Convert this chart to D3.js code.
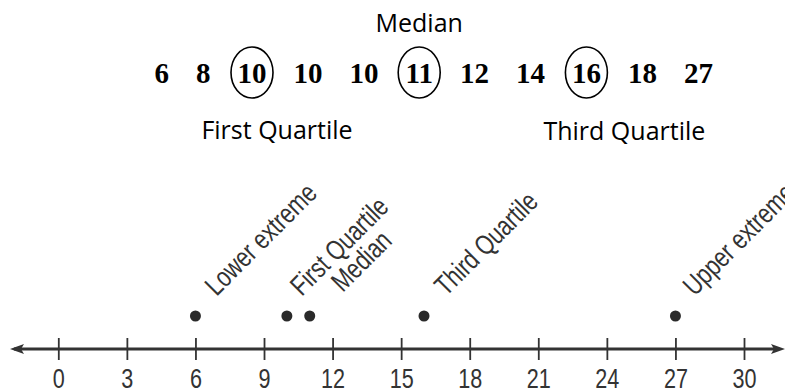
<!DOCTYPE html>
<html><head><meta charset="utf-8">
<script src="https://cdn.jsdelivr.net/npm/d3@7"></script>
<style>
html,body{margin:0;padding:0;background:#fff;}
svg{display:block;}
</style></head>
<body>
<svg id="chart" width="785" height="392"></svg>
<script>
// ---------- data ----------
const dataValues = [6, 8, 10, 10, 10, 11, 12, 14, 16, 18, 27];
const circledIdx = [2, 5, 8];
const topLabels = ["First Quartile", "Median", "Third Quartile"];
const topLabelIdx = [2, 5, 8];
const summaryNames = ["Lower extreme", "First Quartile", "Median", "Third Quartile", "Upper extreme"];
const summaryValues = [6, 10, 11, 16, 27];
const tickValues = [0, 3, 6, 9, 12, 15, 18, 21, 24, 27, 30];
const axisDomain = [0, 30];

// ---------- drawing ----------
const svg = d3.select("#chart");

// Top ordered list of values
const numFont = "'Liberation Serif','Times New Roman',serif";
const numSize = 29, numBaseline = 83, gap = 27, startX = 154.5;
const numG = svg.append("g");
let cursor = startX;
const tokens = dataValues.map((v, i) => {
  const t = numG.append("text")
    .attr("font-family", numFont).attr("font-weight", "bold")
    .attr("font-size", numSize).attr("fill", "#000")
    .attr("y", numBaseline).text(v);
  const w = t.node().getComputedTextLength();
  t.attr("x", cursor);
  const c = cursor + w / 2;
  cursor += w + gap;
  return {v, i, cx: c};
});
numG.selectAll("ellipse").data(circledIdx).join("ellipse")
  .attr("cx", d => tokens[d].cx)
  .attr("cy", 72.5)
  .attr("rx", 21).attr("ry", 25.5)
  .attr("fill", "none").attr("stroke", "#000").attr("stroke-width", 1.6);

const lblFont = "'Open Sans','Noto Sans',sans-serif";
const topPos = [{dx: 25, y: 138.5}, {dx: 0, y: 32}, {dx: 38, y: 140}];
svg.append("g").selectAll("text").data(topLabels).join("text")
  .attr("font-family", lblFont).attr("font-size", 25).attr("fill", "#000")
  .attr("text-anchor", "middle")
  .attr("x", (d, i) => tokens[topLabelIdx[i]].cx + topPos[i].dx)
  .attr("y", (d, i) => topPos[i].y)
  .text(d => d);

// Number line
const x = d3.scaleLinear().domain(axisDomain).range([58.3, 744]);
const axisY = 349;
const axFont = "'Liberation Sans',Arial,sans-serif";
const squeeze = 0.78;
const ink = "#333";

const axisG = svg.append("g").attr("transform", `translate(0,${axisY})`)
  .call(d3.axisBottom(x).tickValues(tickValues).tickSizeOuter(0).tickSizeInner(11).tickFormat(d3.format("d")));
axisG.select(".domain").remove();
axisG.selectAll(".tick line").attr("y1", -11).attr("y2", 11).attr("stroke", ink).attr("stroke-width", 1.8);
axisG.selectAll(".tick text").attr("y", 39).attr("dy", 0)
  .attr("transform", `scale(0.8,1)`)
  .attr("font-family", axFont).attr("font-size", 27).attr("fill", ink);

// main line with arrows
svg.append("line").attr("x1", 14).attr("x2", 778).attr("y1", axisY).attr("y2", axisY)
  .attr("stroke", ink).attr("stroke-width", 2.8);
svg.append("path").attr("d", `M10,${axisY} L24,${axisY-5} L21,${axisY} L24,${axisY+5} Z`).attr("fill", ink);
svg.append("path").attr("d", `M785,${axisY} L771,${axisY-5} L774,${axisY} L771,${axisY+5} Z`).attr("fill", ink);

// summary points
const dotY = 316;
svg.append("g").selectAll("circle").data(summaryValues).join("circle")
  .attr("cx", d => x(d)).attr("cy", dotY).attr("r", 5.5).attr("fill", "#2a2a2a");

// rotated labels
const labelOffsets = [{dx: 21, dy: -19}, {dx: 15, dy: -19}, {dx: 33, dy: -23}, {dx: 22, dy: -19}, {dx: 19, dy: -19}];
svg.append("g").selectAll("text").data(summaryNames).join("text")
  .attr("font-family", axFont).attr("font-size", 28).attr("fill", ink)
  .attr("transform", (d, i) => `translate(${x(summaryValues[i]) + labelOffsets[i].dx},${dotY + labelOffsets[i].dy}) rotate(-45) scale(${squeeze},1)`)
  .text(d => d);
</script>
</body></html>
